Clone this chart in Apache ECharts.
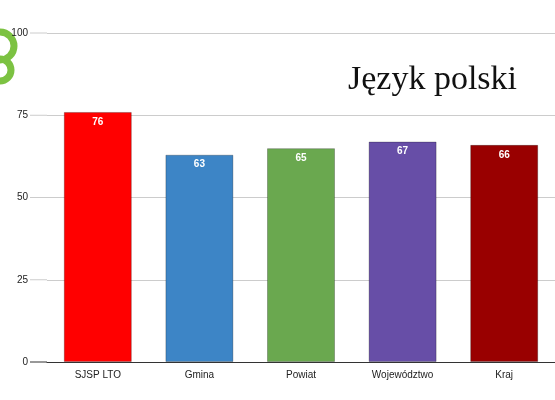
<!DOCTYPE html>
<html>
<head>
<meta charset="utf-8">
<script src="https://cdn.jsdelivr.net/npm/echarts@6/dist/echarts.min.js"></script>
<style>
  body { margin: 0; background: #fff; }
  #chart { width: 555px; height: 400px; }
</style>
</head>
<body>
<div id="chart"></div>
<script>
var categories = ['SJSP LTO', 'Gmina', 'Powiat', 'Województwo', 'Kraj'];
var values = [76, 63, 65, 67, 66];
var colors = ['#ff0000', '#3d85c6', '#6aa84f', '#674ea7', '#990000'];
var yTicks = [0, 25, 50, 75, 100];

var chart = echarts.init(document.getElementById('chart'));
chart.setOption({
  animation: false,
  grid: { left: 47, width: 525, top: 33, bottom: 38 },
  title: {
    text: 'Język polski', left: 343, top: 58,
    textStyle: { fontFamily: 'Liberation Serif', fontWeight: 'normal', fontSize: 34, color: '#111' }
  },
  graphic: [
    { type: 'circle', shape: { cx: 0, cy: 46, r: 14 }, style: { fill: 'none', stroke: '#7cc242', lineWidth: 7 } },
    { type: 'circle', shape: { cx: 0, cy: 70, r: 11 }, style: { fill: 'none', stroke: '#7cc242', lineWidth: 7 } },
    { type: 'group', children: yTicks.map(function (t) {
        return { type: 'line', shape: { x1: 30, x2: 47, y1: 362 - t * 3.29, y2: 362 - t * 3.29 },
          style: { stroke: t === 0 ? '#333' : '#ccc' } };
      }) }
  ],
  xAxis: {
    type: 'category', data: categories,
    axisLine: { lineStyle: { color: '#333' } },
    axisTick: { show: false },
    axisLabel: { color: '#222', fontSize: 10, fontFamily: 'Arial', margin: 8 }
  },
  yAxis: {
    type: 'value', min: 0, max: 100, interval: 25,
    axisLabel: { color: '#222', fontSize: 10, fontFamily: 'Arial', margin: 19 },
    splitLine: { lineStyle: { color: '#ccc' } }
  },
  series: [{
    type: 'bar', barWidth: 68,
    data: values.map(function (v, i) {
      return { value: v, itemStyle: { color: colors[i], borderColor: 'rgba(0,0,0,0.25)', borderWidth: 1 } };
    }),
    label: { show: true, position: 'insideTop', color: '#fff', fontWeight: 'bold', fontSize: 10, fontFamily: 'Arial', distance: 5 }
  }]
});
</script>
</body>
</html>
